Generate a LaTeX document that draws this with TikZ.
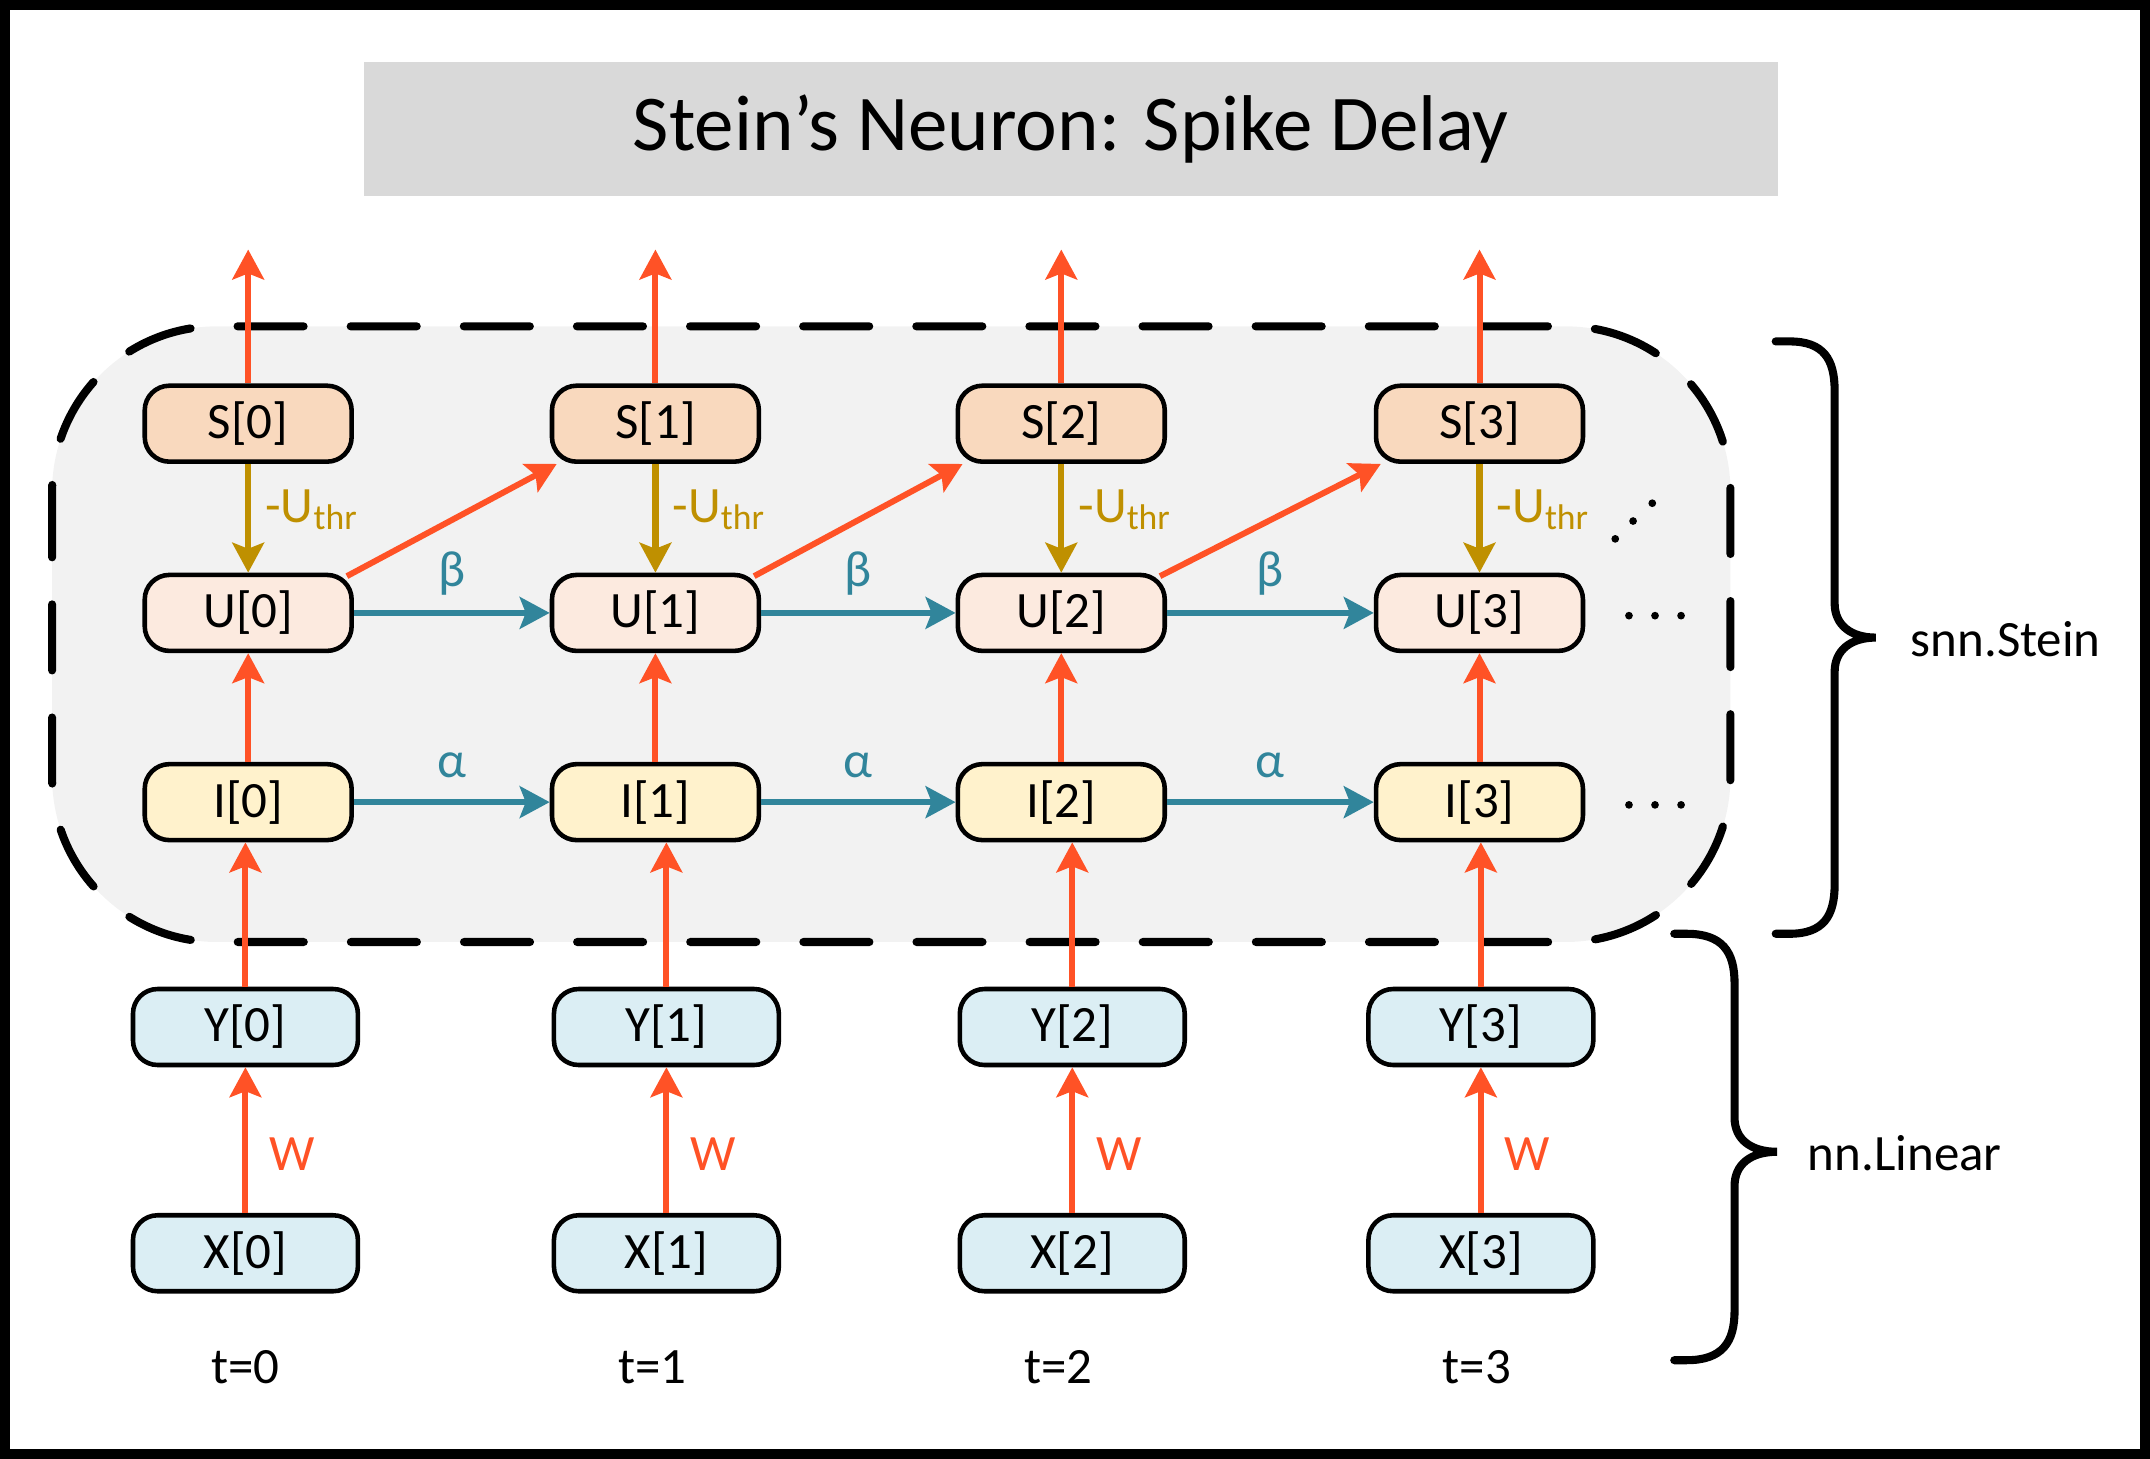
\documentclass[tikz,border=0pt]{standalone}
\usepackage{fontspec}
\setmainfont{Carlito}
\usetikzlibrary{arrows.meta}
\definecolor{orng}{HTML}{FF5226}
\definecolor{teal1}{HTML}{31859B}
\definecolor{gold1}{HTML}{BF9000}
\definecolor{sfill}{HTML}{F9D9BE}
\definecolor{ufill}{HTML}{FCEADF}
\definecolor{ifill}{HTML}{FFF2CC}
\definecolor{xfill}{HTML}{DBEEF4}
\definecolor{regfill}{HTML}{F2F2F2}
\definecolor{titlefill}{HTML}{D9D9D9}
\begin{document}
\begin{tikzpicture}[x=0.013712cm, y=-0.013712cm,
  box/.style={draw=black, line width=1.3pt, rounded corners=7pt, minimum height=0.76cm, inner sep=0pt, font=\fontsize{14.5}{16}\selectfont},
  sbox/.style={box, fill=sfill, minimum width=2.07cm},
  ubox/.style={box, fill=ufill, minimum width=2.07cm},
  ibox/.style={box, fill=ifill, minimum width=2.07cm},
  xbox/.style={box, fill=xfill, minimum width=2.25cm},
  tip/.style={-{Stealth[length=8.5pt,width=9pt,inset=1.7pt]}},
  oarr/.style={tip, draw=orng, line width=1.7pt},
  tarr/.style={tip, draw=teal1, line width=1.8pt},
  garr/.style={tip, draw=gold1, line width=1.8pt},
  lbl/.style={font=\fontsize{14.5}{16}\selectfont, inner sep=0pt},
  brace/.style={draw=black, line width=2.3pt, line cap=round},
  dotm/.style={fill=black}
]
\useasboundingbox (0,0) rectangle (1568,1064);
% outer frame
\draw[line width=2.85pt] (3.6,3.6) rectangle (1564.4,1060.4);
% title
\node[fill=titlefill, minimum width=14.15cm, minimum height=1.344cm, inner sep=0pt,
      font=\fontsize{22.5}{26}\selectfont] (title) at (781,94) {Stein’s Neuron: Spike Delay};
% dashed region
\draw[fill=regfill, line width=2.3pt, line cap=round, dash pattern=on 18.8pt off 13.4pt,
      rounded corners=1.65cm] (38,238) rectangle (1262,687);
% columns
\foreach \i/\cx/\yx in {0/181/179, 1/478/486, 2/774/782, 3/1079/1080}{
  \node[sbox] (S\i) at (\cx,309) {S[\i]};
  \node[ubox] (U\i) at (\cx,447) {U[\i]};
  \node[ibox] (I\i) at (\cx,585) {I[\i]};
  \node[xbox] (Y\i) at (\yx,749) {Y[\i]};
  \node[xbox] (X\i) at (\yx,914) {X[\i]};
  \node[lbl] (t\i) at (\cx-2,997) {t=\i};
  \coordinate (top\i) at (\cx,182);
  \draw[oarr] (S\i.north) -- (top\i);
  \draw[garr] (S\i.south) -- (U\i.north) node[pos=0.42, right=4pt, lbl, text=gold1] (th\i) {-U\textsubscript{thr}};
  \draw[oarr] (I\i.north) -- (U\i.south);
  \draw[oarr] (Y\i.north) -- (Y\i.north |- I\i.south);
  \draw[oarr] (X\i.north) -- (Y\i.south) node[midway, right=6pt, yshift=-4pt, lbl, text=orng] (w\i) {W};
}
\foreach \a/\b in {0/1, 1/2, 2/3}{
  \draw[tarr] (U\a.east) -- (U\b.west) node[midway, above=4pt, lbl, text=teal1] (beta\a) {β};
  \draw[tarr] (I\a.east) -- (I\b.west) node[midway, above=6pt, lbl, text=teal1] (alpha\a) {α};
  \draw[oarr] ([xshift=-2pt,yshift=-1pt]U\a.north east) -- ([xshift=2pt]S\b.south west);
}
% dots
\foreach \x in {1188,1207,1226}{
  \fill[dotm] (\x,449) circle (1.1pt);
  \fill[dotm] (\x,587) circle (1.1pt);
}
\fill[dotm] (1178,393) circle (1.1pt);
\fill[dotm] (1191,380) circle (1.1pt);
\fill[dotm] (1205,367) circle (1.1pt);
% braces
\draw[brace] (1295,249) -- (1305,249) .. controls (1330,249) and (1338,262) .. (1338,285)
  -- (1338,440) .. controls (1338,456) and (1350,465) .. (1368,465)
  .. controls (1350,465) and (1338,474) .. (1338,490)
  -- (1338,645) .. controls (1338,668) and (1330,681) .. (1305,681) -- (1295,681);
\node[lbl, anchor=west] (snn) at (1393,466) {snn.Stein};
\draw[brace] (1221,681) -- (1230,681) .. controls (1256,681) and (1265,694) .. (1265,717)
  -- (1265,815) .. controls (1265,831) and (1277,840) .. (1296,840)
  .. controls (1277,840) and (1265,849) .. (1265,865)
  -- (1265,956) .. controls (1265,979) and (1256,992) .. (1230,992) -- (1221,992);
\node[lbl, anchor=west] (nnl) at (1318,841) {nn.Linear};
\end{tikzpicture}
\end{document}
